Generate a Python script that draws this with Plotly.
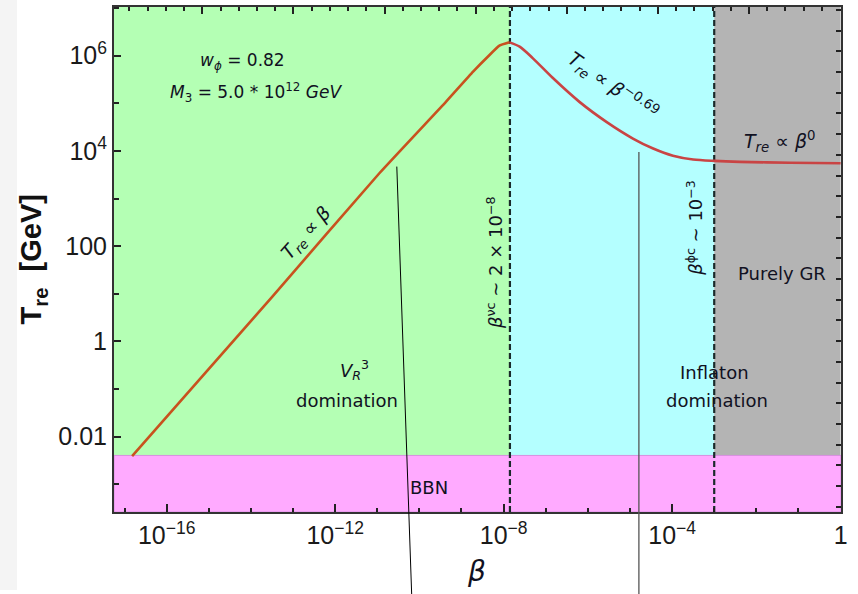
import numpy as np
import plotly.graph_objects as go

# ---------------- data ----------------
# log10(beta), log10(T_re/GeV) along the curve
logb_rise = [-16.82, -13.49, -10.95, -9.37, -8.73, -8.34, -8.10, -7.86]
logT_rise = [-2.41, 0.94, 3.53, 5.03, 5.66, 6.01, 6.21, 6.28]
logb_fall = [-7.86, -7.62, -7.31, -6.83, -6.20, -5.56, -4.93, -4.45, -3.98, -3.50, -2.99, -2.39, -1.2, 0.0]
logT_fall = [6.28, 6.19, 5.95, 5.53, 5.03, 4.61, 4.26, 4.05, 3.90, 3.82, 3.79, 3.77, 3.75, 3.74]

beta_rise = [10**v for v in logb_rise]
T_rise = [10**v for v in logT_rise]
beta_fall = [10**v for v in logb_fall]
T_fall = [10**v for v in logT_fall]

# region boundaries in beta and the BBN temperature
beta_edges = [10**-17.25, 10**-7.85, 1e-3, 1.0]
region_colors = ["#b4ffb4", "#b4ffff", "#b4b4b4"]
T_BBN = 4e-3
beta_dashed = [10**-7.85, 1e-3]

# axis ranges (log10)
x_range = [-17.25, 0.01]
y_range = [-3.586, 7.023]

x_tickvals = [1e-16, 1e-12, 1e-8, 1e-4, 1]
x_ticktext = ["10<sup>−16</sup>", "10<sup>−12</sup>", "10<sup>−8</sup>", "10<sup>−4</sup>", "1"]
x_minor = [10.0**k for k in range(-17, 1)]
y_tickvals = [0.01, 1, 100, 1e4, 1e6]
y_ticktext = ["0.01", "1", "100", "10<sup>4</sup>", "10<sup>6</sup>"]
y_minor = [1e-3, 0.1, 10, 1e3, 1e5, 1e7]

TXT = "DejaVu Sans"
TICKF = "Liberation Sans"

fig = go.Figure()

fig.add_trace(go.Scatter(x=beta_rise, y=T_rise, mode="lines",
                         line=dict(color="#c8521e", width=2.6, shape="spline", smoothing=0.35),
                         showlegend=False, hoverinfo="skip"))
fig.add_trace(go.Scatter(x=beta_fall, y=T_fall, mode="lines",
                         line=dict(color="#c94444", width=2.6, shape="spline", smoothing=0.8),
                         showlegend=False, hoverinfo="skip"))
# dummy trace for the frame axes (top / right)
fig.add_trace(go.Scatter(x=[None], y=[None], xaxis="x2", yaxis="y2",
                         showlegend=False, hoverinfo="skip"))

shapes = []
# light strip at the far left of the picture
shapes.append(dict(type="rect", xref="paper", yref="paper", x0=-0.157, x1=-0.1334,
                   y0=-0.1545, y1=1.02, fillcolor="#f4f4f4", line=dict(width=0), layer="below"))
for i, c in enumerate(region_colors):
    shapes.append(dict(type="rect", xref="x", yref="paper", x0=beta_edges[i], x1=beta_edges[i + 1],
                       y0=0, y1=1, fillcolor=c, line=dict(width=0), layer="below"))
shapes.append(dict(type="rect", xref="paper", yref="y", x0=0, x1=1, y0=10**y_range[0], y1=T_BBN,
                   fillcolor="#ffaaff", line=dict(width=1, color="#d890e0"), layer="below"))
for b in beta_dashed:
    shapes.append(dict(type="line", xref="x", yref="paper", x0=b, x1=b, y0=0, y1=1,
                       line=dict(color="#1a2a2a", width=2.2, dash="6px,3px"), layer="below"))
# thin stray lines
shapes.append(dict(type="line", xref="paper", yref="paper", x0=0.389, y0=0.684, x1=0.4095, y1=-0.165,
                   line=dict(color="black", width=1)))
shapes.append(dict(type="line", xref="paper", yref="paper", x0=0.722, y0=0.713, x1=0.722, y1=-0.165,
                   line=dict(color="#555555", width=1.3)))

def ann(lb, lT, text, size=17, angle=0):
    return dict(x=lb, y=lT, xref="x", yref="y", text=text, showarrow=False, textangle=angle,
                font=dict(family=TXT, size=size, color="#111122"), xanchor="center", yanchor="middle")

annotations = [
    ann(-14.21, 5.87, "<i>w<sub>ϕ</sub></i> = 0.82"),
    ann(-13.87, 5.22, "<i>M</i><sub>3</sub> = 5.0 * 10<sup>12</sup> <i>GeV</i>"),
    ann(-12.68, 2.27, "<i>T<sub>re</sub></i> ∝ <i>β</i>", size=19, angle=-48),
    ann(-8.21, 1.64, "<i>β</i><sup>νc</sup> ~ 2 × 10<sup>−8</sup>", size=18, angle=-90),
    ann(-5.40, 5.36, "<i>T<sub>re</sub></i> ∝ <i>β</i><sup>−0.69</sup>", size=19, angle=35),
    ann(-3.46, 2.38, "<i>β</i><sup>ϕc</sup> ~ 10<sup>−3</sup>", size=18, angle=-90),
    ann(-1.44, 4.19, "<i>T<sub>re</sub></i> ∝ <i>β</i><sup>0</sup>", size=19),
    ann(-1.40, 1.43, "Purely GR", size=18),
    ann(-11.54, -0.60, "<i>V<sub>R</sub></i><sup>3</sup>", size=18),
    ann(-11.71, -1.24, "domination", size=18),
    ann(-2.99, -0.65, "Inflaton", size=18),
    ann(-2.94, -1.24, "domination", size=18),
    ann(-9.76, -3.08, "BBN", size=18),
    dict(x=0.499, y=-0.155, xref="paper", yref="paper", text="<i>β</i>", showarrow=False,
         font=dict(family=TXT, size=28, color="#111122")),
    dict(x=-0.139, y=0.5, xref="paper", yref="paper", text="<b>T<sub>re</sub>  [GeV]</b>",
         showarrow=False, textangle=-90, font=dict(family=TICKF, size=29, color="#111111")),
]

axis_common = dict(showgrid=False, zeroline=False, showline=True, linecolor="#333333", linewidth=2,
                   ticks="inside", tickcolor="#222222", tickwidth=1.5)

fig.update_layout(
    width=858, height=594,
    margin=dict(l=114, r=17, t=7, b=82),
    paper_bgcolor="white", plot_bgcolor="white",
    shapes=shapes, annotations=annotations,
    xaxis=dict(type="log", range=x_range, tickvals=x_tickvals, ticktext=x_ticktext, ticklen=8,
               minor=dict(tickvals=x_minor, ticklen=4, ticks="inside", tickcolor="#222222"),
               tickfont=dict(family=TICKF, size=25, color="#1a1a1a"), **axis_common),
    yaxis=dict(type="log", range=y_range, tickvals=y_tickvals, ticktext=y_ticktext, ticklen=7,
               minor=dict(tickvals=y_minor, ticklen=5, ticks="inside", tickcolor="#222222"),
               tickfont=dict(family=TICKF, size=25, color="#1a1a1a"), **axis_common),
    xaxis2=dict(overlaying="x", side="top", anchor="y", range=[0.03, 8.01], dtick=1, tick0=0,
                ticklen=7, showticklabels=False,
                minor=dict(dtick=0.2, ticklen=4, ticks="inside", tickcolor="#222222"), **axis_common),
    yaxis2=dict(overlaying="y", side="right", anchor="x", range=[-0.256, 24.14], dtick=1, tick0=0,
                ticklen=5, showticklabels=False, **axis_common),
)

fig.write_html("out.html", config={"displayModeBar": False},
               post_script="document.body.style.margin='0';document.body.style.overflow='hidden';")
